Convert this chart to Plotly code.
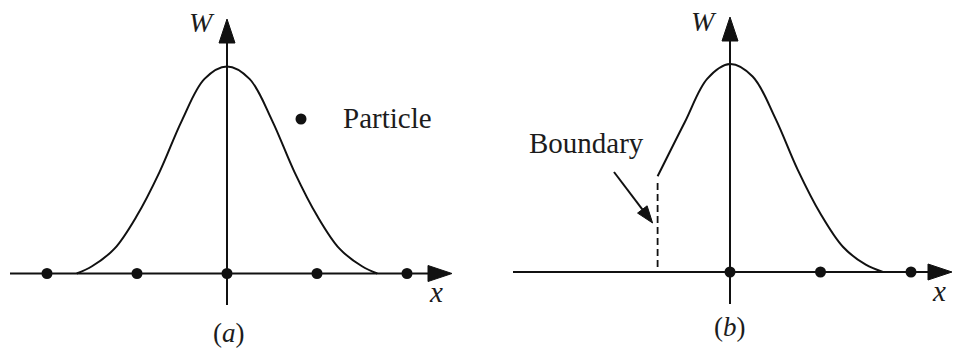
import plotly.graph_objects as go

# ---- data (x in units of particle spacing, W normalised to its peak) ----
A_X = [-1.67, -1.5, -1.25, -1.0, -0.75, -0.5, -0.25, 0.0,
       0.25, 0.5, 0.75, 1.0, 1.25, 1.5, 1.67]
A_W = [0.0, 0.035, 0.12, 0.28, 0.49, 0.74, 0.94, 1.0,
       0.94, 0.74, 0.49, 0.28, 0.12, 0.035, 0.0]
A_PARTICLES = [-2, -1, 0, 1, 2]

BOUNDARY_X = -0.8
B_X = [-0.8, -0.5, -0.25, 0.0, 0.25, 0.5, 0.75, 1.0, 1.25, 1.5, 1.69]
B_W = [0.46, 0.72, 0.93, 1.0, 0.94, 0.74, 0.49, 0.28, 0.12, 0.035, 0.0]
B_PARTICLES = [0, 1, 2]

LEGEND_LABEL = "Particle"
BOUNDARY_LABEL = "Boundary"

# ---- layout geometry (pixels) ----
W_PX, H_PX = 953, 349
FONT = "'Liberation Serif', 'Times New Roman', Times, 'DejaVu Serif', serif"
INK = "#111111"
TXT = "#1c1c1c"

# panel pixel frames: origin of axes, pixels per x-unit, pixels per W-unit
PA = dict(cx=227.0, sx=90.0, cy=273.5, sy=207.0, x0=0.0, x1=476.5,
          xr="x", yr="y")
PB = dict(cx=730.0, sx=90.5, cy=272.0, sy=208.0, x0=476.5, x1=953.0,
          xr="x2", yr="y2")


def dx(p, px):
    return (px - p["cx"]) / p["sx"]


def dy(p, py):
    return (p["cy"] - py) / p["sy"]


def pt(p, px, py):
    return dx(p, px), dy(p, py)


fig = go.Figure()

# curves
fig.add_trace(go.Scatter(x=A_X, y=A_W, mode="lines", xaxis="x", yaxis="y",
                         line=dict(color=INK, width=2, shape="spline",
                                   smoothing=1.0),
                         hoverinfo="skip", showlegend=False))
fig.add_trace(go.Scatter(x=B_X, y=B_W, mode="lines", xaxis="x2", yaxis="y2",
                         line=dict(color=INK, width=2, shape="spline",
                                   smoothing=1.0),
                         hoverinfo="skip", showlegend=False))

shapes = []
annotations = []


def seg(p, ax, ay, bx, by, width=2, dash="solid"):
    x0, y0 = pt(p, ax, ay)
    x1, y1 = pt(p, bx, by)
    shapes.append(dict(type="line", xref=p["xr"], yref=p["yr"],
                       x0=x0, y0=y0, x1=x1, y1=y1,
                       line=dict(color=INK, width=width, dash=dash)))


def head(p, tx, ty, ux, uy, length=24, half=8):
    # filled triangle with its tip at (tx, ty) pointing along (ux, uy)
    nx, ny = -uy, ux
    bx, by = tx - ux * length, ty - uy * length
    pts = [(tx, ty), (bx + nx * half, by + ny * half),
           (bx - nx * half, by - ny * half)]
    d = "M " + " L ".join("%.5f,%.5f" % pt(p, a, b) for a, b in pts) + " Z"
    shapes.append(dict(type="path", xref=p["xr"], yref=p["yr"], path=d,
                       fillcolor=INK, line=dict(color=INK, width=1)))


def label(p, text, px, py, size, xanchor="center", italic=False):
    x, y = pt(p, px, py)
    annotations.append(dict(xref=p["xr"], yref=p["yr"], x=x, y=y,
                            text=text, showarrow=False, xanchor=xanchor,
                            yanchor="middle",
                            font=dict(family=FONT, size=size, color=TXT,
                                      style="italic" if italic else "normal")))


# ---- panel (a) axes ----
seg(PA, 10, PA["cy"], 440, PA["cy"])
head(PA, 452, PA["cy"], 1, 0)
seg(PA, PA["cx"], 305, PA["cx"], 32)
head(PA, PA["cx"], 19, 0, -1, length=24, half=8)

# ---- panel (b) axes ----
seg(PB, 513, PB["cy"], 940, PB["cy"])
head(PB, 952, PB["cy"], 1, 0)
seg(PB, PB["cx"], 304, PB["cx"], 30)
head(PB, PB["cx"], 17, 0, -1, length=24, half=8)

# boundary: dashed wall below the truncated kernel
shapes.append(dict(type="line", xref="x2", yref="y2",
                   x0=BOUNDARY_X, x1=BOUNDARY_X,
                   y0=dy(PB, 267), y1=B_W[0] - 0.02,
                   line=dict(color=INK, width=1.8, dash="7px,4px")))

# pointer from the boundary label to the wall
bpx = PB["cx"] + BOUNDARY_X * PB["sx"]
tipx, tipy = bpx - 5, 223.0
tailx, taily = 614.0, 172.0
L = ((tipx - tailx) ** 2 + (tipy - taily) ** 2) ** 0.5
ux, uy = (tipx - tailx) / L, (tipy - taily) / L
seg(PB, tailx, taily, tipx - ux * 12, tipy - uy * 12, width=2)
head(PB, tipx, tipy, ux, uy, length=17, half=6)

# particles
fig.add_trace(go.Scatter(x=A_PARTICLES, y=[0] * len(A_PARTICLES),
                         mode="markers", xaxis="x", yaxis="y",
                         marker=dict(color=INK, size=11),
                         hoverinfo="skip", showlegend=False))
fig.add_trace(go.Scatter(x=B_PARTICLES, y=[0] * len(B_PARTICLES),
                         mode="markers", xaxis="x2", yaxis="y2",
                         marker=dict(color=INK, size=11),
                         hoverinfo="skip", showlegend=False))

# legend key: a particle dot with its label
lx, ly = pt(PA, 301, 119)
fig.add_trace(go.Scatter(x=[lx], y=[ly], mode="markers", xaxis="x",
                         yaxis="y", marker=dict(color=INK, size=11),
                         hoverinfo="skip", showlegend=False))
label(PA, LEGEND_LABEL, 341, 118, 29, xanchor="left")

# axis names and panel captions
label(PA, "W", 202, 22, 28, italic=True)
label(PA, "x", 436, 292, 29, italic=True)
label(PA, "(<i>a</i>)", 229, 333, 27)
label(PB, "W", 704, 21, 28, italic=True)
label(PB, "x", 939, 291, 29, italic=True)
label(PB, "(<i>b</i>)", 730, 327, 27)
label(PB, BOUNDARY_LABEL, 586.5, 143, 29)


def xaxis_for(p, dom):
    return dict(domain=dom, range=[dx(p, p["x0"]), dx(p, p["x1"])],
                visible=False, fixedrange=True)


def yaxis_for(p):
    return dict(domain=[0, 1], range=[dy(p, H_PX), dy(p, 0)],
                visible=False, fixedrange=True)


fig.update_layout(
    width=W_PX, height=H_PX,
    margin=dict(l=0, r=0, t=0, b=0, pad=0),
    paper_bgcolor="white", plot_bgcolor="white",
    font=dict(family=FONT),
    xaxis=xaxis_for(PA, [0, 0.5]),
    xaxis2=dict(xaxis_for(PB, [0.5, 1]), anchor="y2"),
    yaxis=yaxis_for(PA),
    yaxis2=dict(yaxis_for(PB), anchor="x2"),
    shapes=shapes,
    annotations=annotations,
    showlegend=False,
)

fig.write_html("out.html", config={"displayModeBar": False})
